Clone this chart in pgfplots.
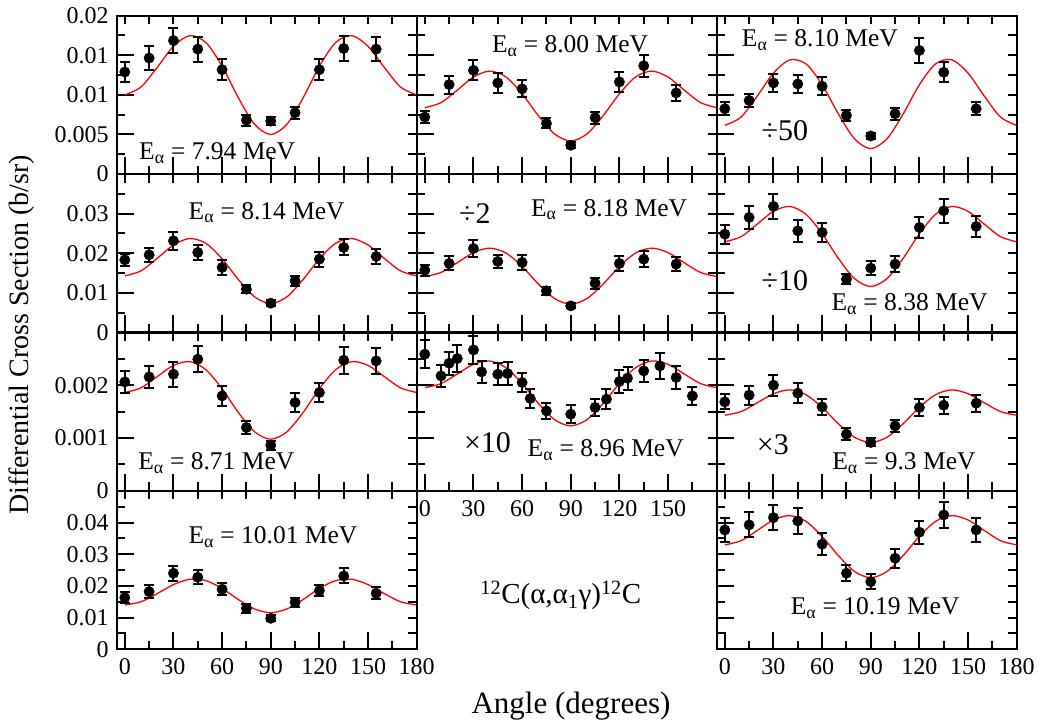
\documentclass[border=0pt]{standalone}
\usepackage{fontspec}
\setmainfont{Liberation Serif}
\usepackage{pgfplots}
\usepackage{pgfplotstable}
\pgfplotsset{compat=1.18}

% Legendre fits of the angular distributions (10-degree steps)
\pgfplotstableread{
ang A B C D E F G H I J K
0   0.01000 0.00839 0.00615 0.01429 0.01415 0.02290 0.001864 0.001957 0.001434 0.01399 0.03296
10  0.01100 0.00903 0.00720 0.01557 0.01516 0.02420 0.001952 0.002032 0.001502 0.01501 0.03428
20  0.01348 0.01060 0.00985 0.01873 0.01761 0.02737 0.002165 0.002214 0.001669 0.01758 0.03751
30  0.01613 0.01225 0.01275 0.02208 0.02017 0.03059 0.002377 0.002397 0.001840 0.02042 0.04082
40  0.01748 0.01300 0.01442 0.02373 0.02130 0.03183 0.002448 0.002460 0.001913 0.02209 0.04220
50  0.01661 0.01227 0.01392 0.02252 0.02008 0.02987 0.002295 0.002334 0.001823 0.02167 0.04040
60  0.01363 0.01014 0.01129 0.01860 0.01667 0.02495 0.001935 0.002034 0.001582 0.01921 0.03565
70  0.00965 0.00738 0.00760 0.01339 0.01225 0.01873 0.001487 0.001658 0.001273 0.01572 0.02959
80  0.00630 0.00507 0.00445 0.00902 0.00857 0.01360 0.001120 0.001350 0.001016 0.01273 0.02456
90  0.00500 0.00418 0.00322 0.00733 0.00715 0.01162 0.000979 0.001231 0.000917 0.01156 0.02262
100 0.00630 0.00507 0.00445 0.00902 0.00857 0.01360 0.001120 0.001350 0.001016 0.01273 0.02456
110 0.00965 0.00738 0.00760 0.01339 0.01225 0.01873 0.001487 0.001658 0.001273 0.01572 0.02959
120 0.01363 0.01014 0.01129 0.01860 0.01667 0.02495 0.001935 0.002034 0.001582 0.01921 0.03565
130 0.01661 0.01227 0.01392 0.02252 0.02008 0.02987 0.002295 0.002334 0.001823 0.02167 0.04040
140 0.01748 0.01300 0.01442 0.02373 0.02130 0.03183 0.002448 0.002460 0.001913 0.02209 0.04220
150 0.01613 0.01225 0.01275 0.02208 0.02017 0.03059 0.002377 0.002397 0.001840 0.02042 0.04082
160 0.01348 0.01060 0.00985 0.01873 0.01761 0.02737 0.002165 0.002214 0.001669 0.01758 0.03751
170 0.01100 0.00903 0.00720 0.01557 0.01516 0.02420 0.001952 0.002032 0.001502 0.01501 0.03428
180 0.01000 0.00839 0.00615 0.01429 0.01415 0.02290 0.001864 0.001957 0.001434 0.01399 0.03296
}\fits

% measured cross sections and uncertainties (scaled as marked)
\pgfplotstableread{
ang A eA B eB C eC D eD E eE F eF G eG I eI J eJ K eK
0   0.01289 0.00132 0.00720 0.00075 0.00825 0.00084 0.01835 0.00147 0.01574 0.00135 0.02484 0.00240 0.002064 0.000212 0.001686 0.000142 0.01630 0.00168 0.03768 0.00370
15  0.01465 0.00150 0.01130 0.00113 0.00929 0.00084 0.01961 0.00182 0.01743 0.00177 0.02906 0.00295 0.002159 0.000212 0.001813 0.000183 0.01819 0.00196 0.03926 0.00395
30  0.01686 0.00163 0.01310 0.00126 0.01151 0.00117 0.02315 0.00227 0.02122 0.00220 0.03184 0.00316 0.002210 0.000233 0.002002 0.000199 0.02401 0.00237 0.04157 0.00405
45  0.01578 0.00157 0.01151 0.00122 0.01138 0.00113 0.02021 0.00185 0.01794 0.00168 0.02567 0.00278 0.002494 0.000250 0.001850 0.000189 0.02274 0.00227 0.04052 0.00420
60  0.01318 0.00132 0.01076 0.00107 0.01109 0.00115 0.01642 0.00182 0.01769 0.00185 0.02527 0.00236 0.001799 0.000183 0.001591 0.000158 0.01895 0.00190 0.03317 0.00341
75  0.00682 0.00069 0.00640 0.00063 0.00741 0.00069 0.01094 0.00106 0.01051 0.00093 0.01347 0.00126 0.001201 0.000126 0.001074 0.000114 0.01295 0.00142 0.02401 0.00253
90  0.00669 0.00054 0.00364 0.00040 0.00481 0.00038 0.00740 0.00080 0.00672 0.00063 0.01625 0.00182 0.000866 0.000085 0.000917 0.000076 0.00979 0.00095 0.02135 0.00243
105 0.00774 0.00077 0.00712 0.00075 0.00762 0.00077 0.01304 0.00118 0.01246 0.00135 0.01726 0.00194 0.001674 0.000180 0.001231 0.000120 0.01485 0.00142 0.02874 0.00306
120 0.01318 0.00132 0.01164 0.00125 0.01561 0.00153 0.01852 0.00190 0.01743 0.00182 0.02653 0.00265 0.001864 0.000183 0.001580 0.000164 0.01851 0.00184 0.03696 0.00363
135 0.01586 0.00157 0.01368 0.00138 0.01285 0.00126 0.02148 0.00202 0.01852 0.00198 0.03073 0.00303 0.002475 0.000252 0.001623 0.000158 0.02315 0.00237 0.04242 0.00417
155 0.01578 0.00153 0.01025 0.00100 0.00825 0.00080 0.01920 0.00182 0.01726 0.00182 0.02678 0.00273 0.002462 0.000243 0.001661 0.000158 0.01769 0.00184 0.03768 0.00370
}\pts

% the 8.96 MeV run has a finer angular grid
\pgfplotstableread{
ang v e
0   0.002589 0.000268
10  0.002178 0.000212
15  0.002418 0.000220
20  0.002507 0.000256
30  0.002670 0.000268
35  0.002254 0.000212
45  0.002210 0.000205
51  0.002223 0.000215
60  0.002053 0.000180
65  0.001750 0.000174
75  0.001515 0.000148
90  0.001453 0.000174
105 0.001580 0.000155
112 0.001737 0.000189
120 0.002072 0.000212
125 0.002135 0.000218
135 0.002273 0.000214
145 0.002368 0.000240
155 0.002148 0.000221
165 0.001799 0.000177
}\ptsH

\tikzset{
  lbl/.style={font=\fontsize{25.5bp}{29bp}\selectfont, anchor=base, inner sep=0pt},
  sc/.style={font=\fontsize{30bp}{34bp}\selectfont, anchor=base, inner sep=0pt},
}

\pgfplotsset{
  panel/.style={
    scale only axis, width=300bp, height=158.4bp,
    anchor=south west,
    xmin=-5, xmax=180, ymin=0,
    axis line style={line width=2.2bp, black},
    tick align=inside,
    tick style={line width=2bp, black},
    scaled y ticks=false, scaled x ticks=false,
  },
  main/.style={
    panel,
    xtick={0,30,...,180}, minor x tick num=1, minor y tick num=1,
    xtick pos=bottom, ytick pos=left,
    major tick length=17bp, minor tick length=8.5bp,
    xticklabels={}, yticklabels={},
    ticklabel style={font=\fontsize{24bp}{27bp}\selectfont, inner sep=0pt},
    xticklabel style={yshift=-9bp},
    yticklabel style={xshift=-8bp},
  },
  mirror/.style={
    panel,
    xtick distance=15,
    xtick pos=top, ytick pos=right,
    major tick length=8.5bp,
    xticklabels={}, yticklabels={},
  },
  row1/.style={ymax=0.02, ytick={0,0.005,0.01,0.015,0.02}},
  row2/.style={ymax=0.04, ytick={0,0.01,0.02,0.03,0.04}},
  row3/.style={ymax=0.003, ytick={0,0.001,0.002,0.003}},
  row4/.style={ymax=0.05, ytick={0,0.01,0.02,0.03,0.04,0.05}},
  fit/.style={red, line width=1.3bp, smooth, no markers},
  data/.style={only marks, mark=*, mark size=5.2bp, black,
    mark options={fill=black, draw=black, line width=0.4bp},
    error bars/.cd, y dir=both, y explicit,
    error bar style={line width=2bp, black},
    error mark options={rotate=90, mark size=5bp, line width=2bp, black}},
}

% short ticks on the top and right sides of a panel
\newcommand{\mirror}[4]{%
  \begin{axis}[mirror, at={(#1bp,#2bp)}, ymax=#3, ytick distance=#4]
  \end{axis}}

\begin{document}
\begin{tikzpicture}[x=1bp, y=1bp]
\useasboundingbox (0bp,0bp) rectangle (1040bp,721bp);

% ---------- row 1 ----------
\mirror{116.7}{546.9}{0.02}{0.0025}
\begin{axis}[main, row1, at={(116.7bp,546.9bp)}, yticklabels={0,0.005,0.01,0.01,0.02}]
  \addplot[fit] table[x=ang, y=A]{\fits};
  \addplot[data] table[x=ang, y=A, y error=eA]{\pts};
  \node[lbl] at (rel axis cs:0.335,0.093) {E\textsubscript{α} = 7.94 MeV};
\end{axis}

\mirror{416.7}{546.9}{0.02}{0.0025}
\begin{axis}[main, row1, at={(416.7bp,546.9bp)}]
  \addplot[fit] table[x=ang, y=B]{\fits};
  \addplot[data] table[x=ang, y=B, y error=eB]{\pts};
  \node[lbl] at (rel axis cs:0.511,0.766) {E\textsubscript{α} = 8.00 MeV};
\end{axis}

\mirror{716.7}{546.9}{0.02}{0.0025}
\begin{axis}[main, row1, at={(716.7bp,546.9bp)}]
  \addplot[fit] table[x=ang, y=C]{\fits};
  \addplot[data] table[x=ang, y=C, y error=eC]{\pts};
  \node[lbl] at (rel axis cs:0.344,0.804) {E\textsubscript{α} = 8.10 MeV};
  \node[sc] at (rel axis cs:0.227,0.215) {÷50};
\end{axis}

% ---------- row 2 ----------
\mirror{116.7}{388.5}{0.04}{0.005}
\begin{axis}[main, row2, at={(116.7bp,388.5bp)}, yticklabels={0,0.01,0.02,0.03,{}}]
  \addplot[fit] table[x=ang, y=D]{\fits};
  \addplot[data] table[x=ang, y=D, y error=eD]{\pts};
  \node[lbl] at (rel axis cs:0.5,0.715) {E\textsubscript{α} = 8.14 MeV};
\end{axis}

\mirror{416.7}{388.5}{0.04}{0.005}
\begin{axis}[main, row2, at={(416.7bp,388.5bp)}]
  \addplot[fit] table[x=ang, y=E]{\fits};
  \addplot[data] table[x=ang, y=E, y error=eE]{\pts};
  \node[lbl] at (rel axis cs:0.641,0.735) {E\textsubscript{α} = 8.18 MeV};
  \node[sc] at (rel axis cs:0.194,0.689) {÷2};
\end{axis}

\mirror{716.7}{388.5}{0.04}{0.005}
\begin{axis}[main, row2, at={(716.7bp,388.5bp)}]
  \addplot[fit] table[x=ang, y=F]{\fits};
  \addplot[data] table[x=ang, y=F, y error=eF]{\pts};
  \node[lbl] at (rel axis cs:0.643,0.138) {E\textsubscript{α} = 8.38 MeV};
  \node[sc] at (rel axis cs:0.227,0.268) {÷10};
\end{axis}

% ---------- row 3 ----------
\mirror{116.7}{230.1}{0.003}{0.0005}
\begin{axis}[main, row3, at={(116.7bp,230.1bp)}, yticklabels={0,0.001,0.002,{}}]
  \addplot[fit] table[x=ang, y=G]{\fits};
  \addplot[data] table[x=ang, y=G, y error=eG]{\pts};
  \node[lbl] at (rel axis cs:0.332,0.132) {E\textsubscript{α} = 8.71 MeV};
\end{axis}

\mirror{416.7}{230.1}{0.003}{0.0005}
\begin{axis}[main, row3, at={(416.7bp,230.1bp)}, xticklabels={0,30,60,90,120,150,{}}]
  \addplot[fit] table[x=ang, y=H]{\fits};
  \addplot[data] table[x=ang, y=v, y error=e]{\ptsH};
  \node[lbl] at (rel axis cs:0.630,0.216) {E\textsubscript{α} = 8.96 MeV};
  \node[sc] at (rel axis cs:0.236,0.241) {×10};
\end{axis}

\mirror{716.7}{230.1}{0.003}{0.0005}
\begin{axis}[main, row3, at={(716.7bp,230.1bp)}]
  \addplot[fit] table[x=ang, y=I]{\fits};
  \addplot[data] table[x=ang, y=I, y error=eI]{\pts};
  \node[lbl] at (rel axis cs:0.624,0.132) {E\textsubscript{α} = 9.3 MeV};
  \node[sc] at (rel axis cs:0.187,0.227) {×3};
\end{axis}

% ---------- row 4 ----------
\mirror{116.7}{71.7}{0.05}{0.005}
\begin{axis}[main, row4, at={(116.7bp,71.7bp)}, yticklabels={0,0.01,0.02,0.03,0.04,{}},
  xticklabels={0,30,60,90,120,150,180}]
  \addplot[fit] table[x=ang, y=J]{\fits};
  \addplot[data] table[x=ang, y=J, y error=eJ]{\pts};
  \node[lbl] at (rel axis cs:0.521,0.669) {E\textsubscript{α} = 10.01 MeV};
\end{axis}

\mirror{716.7}{71.7}{0.05}{0.005}
\begin{axis}[main, row4, at={(716.7bp,71.7bp)}, xticklabels={0,30,60,90,120,150,180}]
  \addplot[fit] table[x=ang, y=K]{\fits};
  \addplot[data] table[x=ang, y=K, y error=eK]{\pts};
  \node[lbl] at (rel axis cs:0.528,0.217) {E\textsubscript{α} = 10.19 MeV};
\end{axis}

% reaction and axis titles
\node[font=\fontsize{29bp}{32bp}\selectfont, anchor=base, inner sep=0pt] at (560.8bp,117.7bp)
  {\textsuperscript{12}C(α,α\textsubscript{1}γ)\textsuperscript{12}C};
\node[font=\fontsize{28bp}{31bp}\selectfont, rotate=90, inner sep=0pt] at (22bp,386bp)
  {Differential Cross Section (b/sr)};
\node[font=\fontsize{31bp}{34bp}\selectfont, anchor=base, inner sep=0pt] at (571bp,7.5bp)
  {Angle (degrees)};
\end{tikzpicture}
\end{document}
